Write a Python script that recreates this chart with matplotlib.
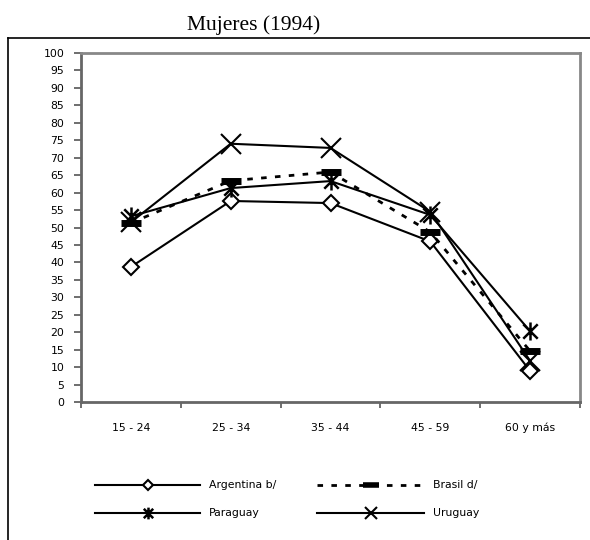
import matplotlib
matplotlib.use("Agg")
import matplotlib.pyplot as plt
from matplotlib.lines import Line2D
from matplotlib.path import Path
import numpy as np

categories = ["15 - 24", "25 - 34", "35 - 44", "45 - 59", "60 y más"]
argentina = [38.7, 57.6, 57.0, 46.0, 8.9]
brasil = [51.3, 63.4, 65.9, 48.7, 14.6]
paraguay = [53.2, 61.3, 63.3, 53.6, 20.3]
uruguay = [51.5, 74.0, 72.8, 54.5, 11.8]
series_names = ["Argentina b/", "Brasil d/", "Paraguay", "Uruguay"]
yticks = list(range(0, 101, 5))
title = "Mujeres (1994)"

W, H = 590, 540
fig = plt.figure(figsize=(W / 100, H / 100), dpi=100)
fig.patch.set_facecolor("white")

L, R, T, B = 81, 580, 53, 402
ax = fig.add_axes([L / W, 1 - B / H, (R - L) / W, (B - T) / H])

# asterisk marker (X plus vertical bar)
ast = Path([(-1, -1), (1, 1), (-1, 1), (1, -1), (0, -1.25), (0, 1.25)],
           [Path.MOVETO, Path.LINETO, Path.MOVETO, Path.LINETO, Path.MOVETO, Path.LINETO])

styles = [
    dict(color="black", lw=1.5, marker="D", ms=8, mfc="white", mec="black", mew=1.5),
    dict(color="black", lw=2.0, dashes=(2, 3), marker="_", ms=14, mec="black", mew=5),
    dict(color="black", lw=1.5, marker=ast, ms=13, mec="black", mew=1.8),
    dict(color="black", lw=1.5, marker="x", ms=14, mec="black", mew=1.5),
]
data = [argentina, brasil, paraguay, uruguay]
x = np.arange(len(categories))
for vals, st, nm in zip(data, styles, series_names):
    ax.plot(x, vals, label=nm, zorder=3, **st)

tfont = "DejaVu Sans"
ax.set_xlim(-0.5, len(categories) - 0.5)
ax.set_ylim(0, 100)
ax.set_yticks(yticks)
ax.set_yticklabels([str(v) for v in yticks], fontsize=7.8, family=tfont)
ax.set_xticks(x)
ax.set_xticklabels(categories, fontsize=7.8, family=tfont)
ax.set_xticks(np.arange(-0.5, len(categories)), minor=True)
ax.tick_params(axis="x", which="major", length=0, pad=15)
ax.tick_params(axis="x", which="minor", length=4, width=1.2, color="#555555", direction="out")
ax.tick_params(axis="y", length=5, width=1.2, color="#555555", direction="out", pad=7)
for s in ["left", "bottom"]:
    ax.spines[s].set_color("#666666")
    ax.spines[s].set_linewidth(2)
for s in ["top", "right"]:
    ax.spines[s].set_color("#888888")
    ax.spines[s].set_linewidth(2)

# outer frame
fig.add_artist(Line2D([8 / W, 1], [1 - 38 / H, 1 - 38 / H], color="black", lw=1.2))
fig.add_artist(Line2D([8 / W, 8 / W], [0, 1 - 38 / H], color="black", lw=1.2))

fig.text(254 / W, 1 - 25 / H, title, ha="center", va="center",
         fontsize=15.5, family="Liberation Serif")

# legend
pos = [(95, 200, 485), (317, 424, 485), (95, 200, 513), (317, 424, 513)]
for (x0, x1, yy), st, nm in zip(pos, styles, series_names):
    st2 = dict(st)
    st2["ms"] = st["ms"] * 0.65
    if nm.startswith("Brasil"):
        st2["ms"] = 12
        st2["mew"] = 4
    ln = Line2D([x0 / W, (x0 + x1) / 2 / W, x1 / W], [1 - yy / H] * 3,
                markevery=[1], transform=fig.transFigure, **st2)
    fig.add_artist(ln)
    fig.text((x1 + 9) / W, 1 - yy / H, nm, ha="left", va="center",
             fontsize=7.8, family=tfont)

fig.savefig("out.png", dpi=100)
